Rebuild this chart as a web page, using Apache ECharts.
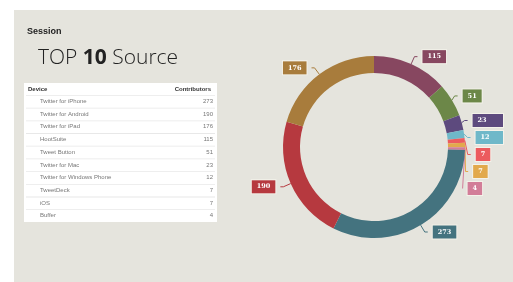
<!DOCTYPE html>
<html>
<head>
<meta charset="utf-8">
<script src="https://cdn.jsdelivr.net/npm/echarts@6/dist/echarts.min.js"></script>
<style>
  html, body { margin: 0; padding: 0; background: #ffffff; }
  #chart { width: 513px; height: 282px; }
</style>
</head>
<body>
<div id="chart"></div>
<script>
// table order (as shown on the left)
let devices = ['Twitter for iPhone', 'Twitter for Android', 'Twitter for iPad', 'HootSuite', 'Tweet Button',
    'Twitter for Mac', 'Twitter for Windows Phone', 'TweetDeck', 'iOS', 'Buffer']
let contributors = [273, 190, 176, 115, 51, 23, 12, 7, 7, 4]
let colors = ['#44737f', '#b6393f', '#a87c3c', '#874760', '#6c8748', '#5d4a7e', '#6fb8c9', '#ec5b5e', '#e2a94c', '#d27d98']

// ring starts at 12 o'clock with HootSuite, so rotate the order
let ringOrder = [3, 4, 5, 6, 7, 8, 9, 0, 1, 2]

const tableX = 24, tableY = 83, tableW = 193, headH = 12, rowH = 12.7

let graphics = []
graphics.push({ type: 'rect', shape: { x: 14, y: 10, width: 499, height: 272 }, style: { fill: '#e5e4dd' }, silent: true })
graphics.push({ type: 'rect', shape: { x: tableX, y: tableY, width: tableW, height: headH + rowH * devices.length }, style: { fill: '#ffffff' } })
graphics.push({ type: 'text', x: tableX + 4, y: tableY + headH / 2, style: { text: 'Device', fontSize: 6, fontWeight: 'bold', fill: '#333', verticalAlign: 'middle', fontFamily: 'Liberation Sans' } })
graphics.push({ type: 'text', x: tableX + tableW - 6, y: tableY + headH / 2, style: { text: 'Contributors', fontSize: 6, fontWeight: 'bold', fill: '#333', align: 'right', verticalAlign: 'middle', fontFamily: 'Liberation Sans' } })

devices.map((name, i) => {
    let y = tableY + headH + rowH * i
    graphics.push({ type: 'rect', shape: { x: tableX + 2, y: y, width: tableW - 4, height: 0.8 }, style: { fill: '#e8e8e8' } })
    graphics.push({ type: 'text', x: tableX + 16, y: y + rowH / 2, style: { text: name, fontSize: 6, fill: '#777', verticalAlign: 'middle', fontFamily: 'Liberation Sans' } })
    graphics.push({ type: 'text', x: tableX + tableW - 4, y: y + rowH / 2, style: { text: String(contributors[i]), fontSize: 6, fill: '#777', align: 'right', verticalAlign: 'middle', fontFamily: 'Liberation Sans' } })
})

let chart = echarts.init(document.getElementById('chart'))

let options = {
    backgroundColor: '#ffffff',
    animation: false,
    title: [{
        text: 'Session',
        left: 22, top: 22,
        textStyle: { fontSize: 9, fontWeight: 'bold', color: '#222', fontFamily: 'Liberation Sans' }
    }, {
        text: '{a|TOP }{b|10}{a| Source}',
        left: 33, top: 43,
        textStyle: {
            rich: {
                a: { fontSize: 21, color: '#222', fontFamily: 'Open Sans', fontWeight: 300 },
                b: { fontSize: 21, color: '#222', fontFamily: 'Open Sans', fontWeight: 'bold' }
            }
        }
    }],
    graphic: graphics,
    series: [{
        type: 'pie',
        center: [374, 147],
        radius: [74, 91],
        startAngle: 90,
        clockwise: true,
        avoidLabelOverlap: true,
        data: ringOrder.map(i => ({
            value: contributors[i],
            name: devices[i],
            itemStyle: { color: colors[i] },
            label: { backgroundColor: colors[i] },
            labelLine: { lineStyle: { color: colors[i] } }
        })),
        label: {
            formatter: '{c}',
            color: '#fff',
            fontSize: 6.5,
            fontWeight: 'bold',
            fontFamily: 'DejaVu Serif',
            padding: [3, 5],
            borderColor: '#f4f2ea',
            borderWidth: 1
        },
        labelLine: { length: 8, length2: 3, lineStyle: { width: 1 } }
    }]
}

chart.setOption(options)
</script>
</body>
</html>
